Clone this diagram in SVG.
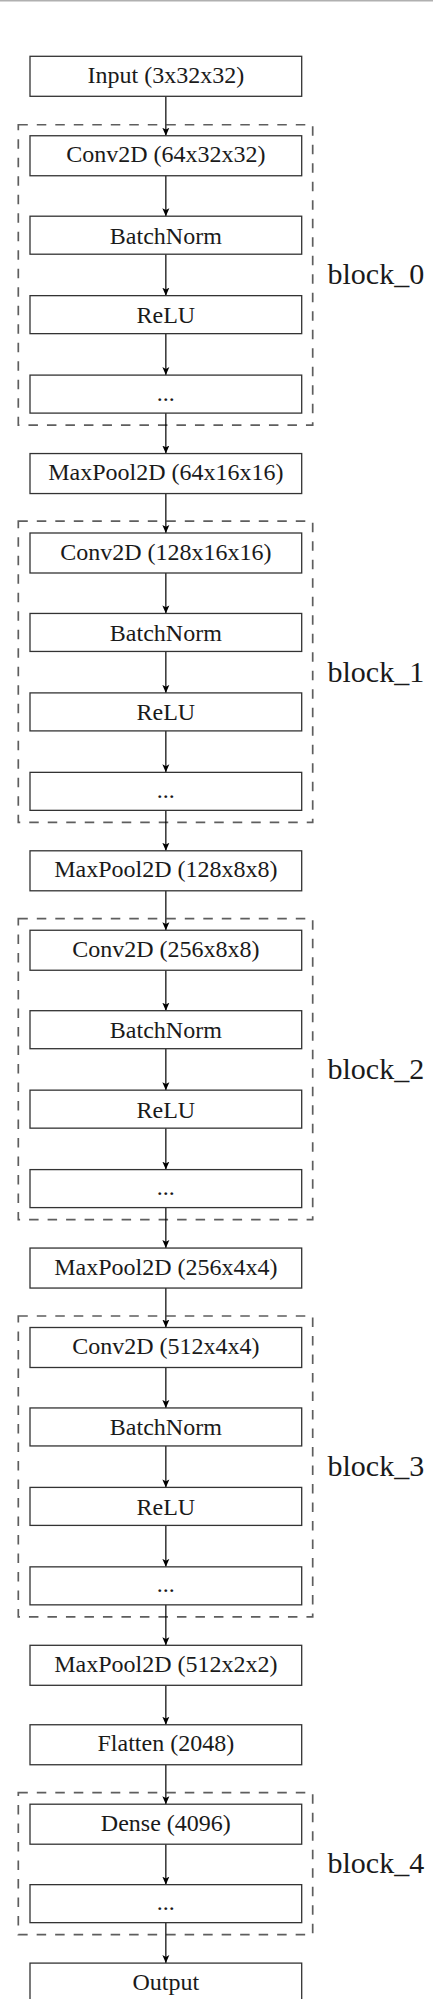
<svg xmlns="http://www.w3.org/2000/svg" width="433" height="1999" viewBox="0 0 433 1999">
<style>
.box{fill:#fff;stroke:#333;stroke-width:1.3}
.blk{fill:none;stroke:#5e5e5e;stroke-width:1.7;stroke-dasharray:9.5 9}
.t{font-family:"Liberation Serif","Times New Roman",serif;font-size:24px;fill:#1a1a1a;text-anchor:middle}
.lbl{font-family:"Liberation Serif","Times New Roman",serif;font-size:30px;fill:#1a1a1a}
.c{stroke:#000;stroke-width:1.2;fill:none;marker-end:url(#ah)}
</style>
<defs>
<marker id="ah" markerUnits="userSpaceOnUse" markerWidth="10" markerHeight="8" refX="8" refY="3.5" orient="auto" viewBox="0 0 10 7">
<path d="M0,0 L8,3.5 L0,7 L1.8,3.5 z" fill="#000"/>
</marker>
</defs>
<rect x="0" y="0" width="433" height="1.5" fill="#b0b0b0"/>

<g id="blocks">
<g id="block_0"><rect class="blk" x="18.3" y="124.75" width="294.4" height="300.35"/><text class="lbl" x="327.5" y="284.4">block_0</text></g>
<g id="block_1"><rect class="blk" x="18.3" y="521.2" width="294.4" height="301.15"/><text class="lbl" x="327.5" y="681.7">block_1</text></g>
<g id="block_2"><rect class="blk" x="18.3" y="918.6" width="294.4" height="301"/><text class="lbl" x="327.5" y="1078.9">block_2</text></g>
<g id="block_3"><rect class="blk" x="18.3" y="1316" width="294.4" height="300.85"/><text class="lbl" x="327.5" y="1476.2">block_3</text></g>
<g id="block_4"><rect class="blk" x="18.3" y="1792.6" width="294.4" height="142.05"/><text class="lbl" x="327.5" y="1873.4">block_4</text></g>
</g>

<g id="connectors">
<line class="c" x1="165.85" y1="96.3" x2="165.85" y2="135.75"/>
<line class="c" x1="165.85" y1="175.75" x2="165.85" y2="216.2"/>
<line class="c" x1="165.85" y1="254.2" x2="165.85" y2="295.65"/>
<line class="c" x1="165.85" y1="333.65" x2="165.85" y2="375.1"/>
<line class="c" x1="165.85" y1="413.1" x2="165.85" y2="453.55"/>
<line class="c" x1="165.85" y1="493.55" x2="165.85" y2="533"/>
<line class="c" x1="165.85" y1="573" x2="165.85" y2="613.45"/>
<line class="c" x1="165.85" y1="651.45" x2="165.85" y2="692.9"/>
<line class="c" x1="165.85" y1="730.9" x2="165.85" y2="772.35"/>
<line class="c" x1="165.85" y1="810.35" x2="165.85" y2="850.8"/>
<line class="c" x1="165.85" y1="890.8" x2="165.85" y2="930.25"/>
<line class="c" x1="165.85" y1="970.25" x2="165.85" y2="1010.7"/>
<line class="c" x1="165.85" y1="1048.7" x2="165.85" y2="1090.15"/>
<line class="c" x1="165.85" y1="1128.15" x2="165.85" y2="1169.6"/>
<line class="c" x1="165.85" y1="1207.6" x2="165.85" y2="1248.05"/>
<line class="c" x1="165.85" y1="1288.05" x2="165.85" y2="1327.5"/>
<line class="c" x1="165.85" y1="1367.5" x2="165.85" y2="1407.95"/>
<line class="c" x1="165.85" y1="1445.95" x2="165.85" y2="1487.4"/>
<line class="c" x1="165.85" y1="1525.4" x2="165.85" y2="1566.85"/>
<line class="c" x1="165.85" y1="1604.85" x2="165.85" y2="1645.3"/>
<line class="c" x1="165.85" y1="1685.3" x2="165.85" y2="1724.75"/>
<line class="c" x1="165.85" y1="1764.75" x2="165.85" y2="1804.2"/>
<line class="c" x1="165.85" y1="1844.2" x2="165.85" y2="1884.65"/>
<line class="c" x1="165.85" y1="1922.65" x2="165.85" y2="1963.1"/>
</g>

<g id="n0"><rect class="box" x="30" y="56.3" width="271.7" height="40"/><text class="t" x="165.85" y="82.8">Input (3x32x32)</text></g>
<g id="n1"><rect class="box" x="30" y="135.75" width="271.7" height="40"/><text class="t" x="165.85" y="162.25">Conv2D (64x32x32)</text></g>
<g id="n2"><rect class="box" x="30" y="216.2" width="271.7" height="38"/><text class="t" x="165.85" y="243.7">BatchNorm</text></g>
<g id="n3"><rect class="box" x="30" y="295.65" width="271.7" height="38"/><text class="t" x="165.85" y="323.15">ReLU</text></g>
<g id="n4"><rect class="box" x="30" y="375.1" width="271.7" height="38"/><text class="t" x="165.85" y="400.6">...</text></g>
<g id="n5"><rect class="box" x="30" y="453.55" width="271.7" height="40"/><text class="t" x="165.85" y="480.05">MaxPool2D (64x16x16)</text></g>
<g id="n6"><rect class="box" x="30" y="533" width="271.7" height="40"/><text class="t" x="165.85" y="559.5">Conv2D (128x16x16)</text></g>
<g id="n7"><rect class="box" x="30" y="613.45" width="271.7" height="38"/><text class="t" x="165.85" y="640.95">BatchNorm</text></g>
<g id="n8"><rect class="box" x="30" y="692.9" width="271.7" height="38"/><text class="t" x="165.85" y="720.4">ReLU</text></g>
<g id="n9"><rect class="box" x="30" y="772.35" width="271.7" height="38"/><text class="t" x="165.85" y="797.85">...</text></g>
<g id="n10"><rect class="box" x="30" y="850.8" width="271.7" height="40"/><text class="t" x="165.85" y="877.3">MaxPool2D (128x8x8)</text></g>
<g id="n11"><rect class="box" x="30" y="930.25" width="271.7" height="40"/><text class="t" x="165.85" y="956.75">Conv2D (256x8x8)</text></g>
<g id="n12"><rect class="box" x="30" y="1010.7" width="271.7" height="38"/><text class="t" x="165.85" y="1038.2">BatchNorm</text></g>
<g id="n13"><rect class="box" x="30" y="1090.15" width="271.7" height="38"/><text class="t" x="165.85" y="1117.65">ReLU</text></g>
<g id="n14"><rect class="box" x="30" y="1169.6" width="271.7" height="38"/><text class="t" x="165.85" y="1195.1">...</text></g>
<g id="n15"><rect class="box" x="30" y="1248.05" width="271.7" height="40"/><text class="t" x="165.85" y="1274.55">MaxPool2D (256x4x4)</text></g>
<g id="n16"><rect class="box" x="30" y="1327.5" width="271.7" height="40"/><text class="t" x="165.85" y="1354">Conv2D (512x4x4)</text></g>
<g id="n17"><rect class="box" x="30" y="1407.95" width="271.7" height="38"/><text class="t" x="165.85" y="1435.45">BatchNorm</text></g>
<g id="n18"><rect class="box" x="30" y="1487.4" width="271.7" height="38"/><text class="t" x="165.85" y="1514.9">ReLU</text></g>
<g id="n19"><rect class="box" x="30" y="1566.85" width="271.7" height="38"/><text class="t" x="165.85" y="1592.35">...</text></g>
<g id="n20"><rect class="box" x="30" y="1645.3" width="271.7" height="40"/><text class="t" x="165.85" y="1671.8">MaxPool2D (512x2x2)</text></g>
<g id="n21"><rect class="box" x="30" y="1724.75" width="271.7" height="40"/><text class="t" x="165.85" y="1751.25">Flatten (2048)</text></g>
<g id="n22"><rect class="box" x="30" y="1804.2" width="271.7" height="40"/><text class="t" x="165.85" y="1830.7">Dense (4096)</text></g>
<g id="n23"><rect class="box" x="30" y="1884.65" width="271.7" height="38"/><text class="t" x="165.85" y="1910.15">...</text></g>
<g id="n24"><rect class="box" x="30" y="1963.1" width="271.7" height="40"/><text class="t" x="165.85" y="1989.6">Output</text></g>
</svg>
